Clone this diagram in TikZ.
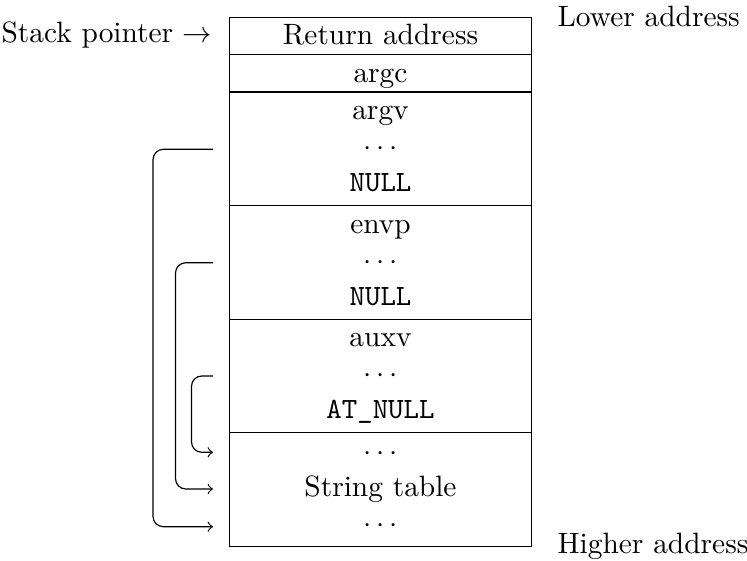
\documentclass[tikz,border=0pt]{standalone}
\begin{document}
\begin{tikzpicture}[x=0.34pt,y=-0.34pt,
  cell/.style={anchor=base,inner sep=0pt},
  link/.style={->,rounded corners=3.5pt}]
\useasboundingbox (0,0) rectangle (747,560);
\def\cx{380.5}
% stack frame outline and block separators
\draw (229.5,17.3) rectangle (531.5,546.3);
\foreach \y in {54.8,92,205.5,319.2,432.8}
  \draw (229.5,\y) -- (531.5,\y);

% cell contents
\node[cell] (ret)    at (\cx,44.8)  {Return address};
\node[cell] (argc)   at (\cx,82.3)  {argc};
\node[cell] (argv)   at (\cx,119.5) {argv};
\node[cell] (argvd)  at (\cx,155.5) {$\cdots$};
\node[cell] (argvn)  at (\cx,191.5) {\texttt{NULL}};
\node[cell] (envp)   at (\cx,233)   {envp};
\node[cell] (envpd)  at (\cx,269)   {$\cdots$};
\node[cell] (envpn)  at (\cx,305)   {\texttt{NULL}};
\node[cell] (auxv)   at (\cx,346.7) {auxv};
\node[cell] (auxvd)  at (\cx,382.7) {$\cdots$};
\node[cell] (auxvn)  at (\cx,418.7) {\texttt{AT\_NULL}};
\node[cell] (strd1)  at (\cx,460.3) {$\cdots$};
\node[cell] (strtab) at (\cx,496.3) {String table};
\node[cell] (strd2)  at (\cx,532.3) {$\cdots$};

% side labels
\node[anchor=base east,inner sep=0pt] (sp) at (213,42.5) {Stack pointer $\rightarrow$};
\node[anchor=base west,inner sep=0pt] (lo) at (557,26.3) {Lower address};
\node[anchor=base west,inner sep=0pt] (hi) at (557,553.3) {Higher address};

% pointer ends, on the math axis of the lines they belong to
\coordinate (argvp) at (213,149.3);
\coordinate (envpp) at (213,262.7);
\coordinate (auxvp) at (213,376);
\coordinate (s1) at (213,452.3);
\coordinate (s2) at (213,489);
\coordinate (s3) at (213,526.7);

\draw[link] (argvp) -- ++(-60,0) |- (s3);
\draw[link] (envpp) -- ++(-37.5,0) |- (s2);
\draw[link] (auxvp) -- ++(-21.5,0) |- (s1);
\end{tikzpicture}
\end{document}
